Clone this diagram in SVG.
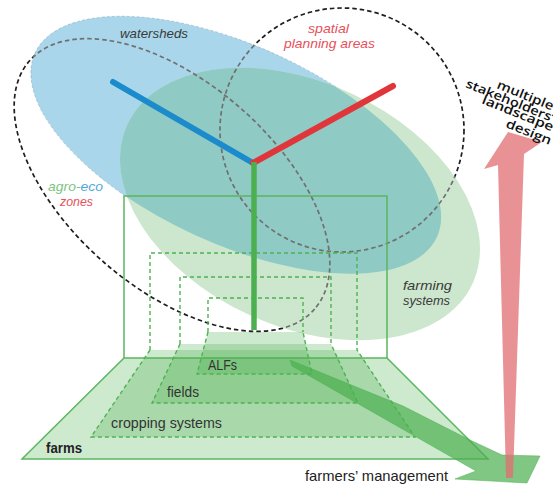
<svg xmlns="http://www.w3.org/2000/svg" xmlns:xlink="http://www.w3.org/1999/xlink" width="553" height="485" viewBox="0 0 553 485">
<style>
.dk{fill:none;stroke:#1e1e1e;stroke-width:1.7;stroke-dasharray:4.5 3}
.dg{fill:none;stroke:#707070;stroke-width:1.7;stroke-dasharray:4.5 3}
.gd{fill:none;stroke:#4db352;stroke-width:1.4;stroke-dasharray:4 3}
.gs{fill:none;stroke:#5bb65e;stroke-width:1.5}
.layer{fill:#4caf50;fill-opacity:0.28}
.lbl{font-family:"Liberation Sans",Arial,sans-serif;font-size:14px;fill:#333}
.it{font-family:"Liberation Sans",Arial,sans-serif;font-size:13px;font-style:italic}
.st{font-family:"Open Sans","Liberation Sans",sans-serif;font-size:12.5px;font-weight:600;fill:#111}
</style>
<defs>
<ellipse id="eBlue" cx="236" cy="145" rx="221" ry="99" transform="rotate(24.6 236 145)"/>
<ellipse id="eGreen" cx="300" cy="204" rx="190" ry="122" transform="rotate(24.7 300 204)"/>
<ellipse id="eAgro" cx="172" cy="185" rx="189" ry="103" transform="rotate(41 172 185)"/>
<ellipse id="eSpatial" cx="342" cy="130" rx="122" ry="122"/>
<clipPath id="cGreen"><use xlink:href="#eGreen"/></clipPath>
<clipPath id="cFill"><use xlink:href="#eBlue"/><use xlink:href="#eGreen"/></clipPath>
</defs>
<rect width="553" height="485" fill="#fff"/>

<g id="agro-eco-zones">
<use xlink:href="#eAgro" class="dk"/>
</g>
<g id="spatial-planning-areas">
<use xlink:href="#eSpatial" class="dk"/>
</g>
<g id="watersheds">
<use xlink:href="#eBlue" fill="#a9d6ea"/>
<use xlink:href="#eBlue" fill="none" stroke="#7fa9bd" stroke-width="0.8" stroke-dasharray="3 2" opacity="0.6"/>
</g>
<g id="farming-systems">
<use xlink:href="#eGreen" fill="#cce7cd"/>
<use xlink:href="#eBlue" fill="#8fcac4" clip-path="url(#cGreen)"/>
</g>
<g clip-path="url(#cFill)">
<use xlink:href="#eAgro" class="dg"/>
<use xlink:href="#eSpatial" class="dg"/>
</g>

<g id="farms">
<polyline points="124,358 124,196 387,196 387,358" class="gs"/>
<polygon points="124,358 387,358 488,459 22,459" class="layer" stroke="#5bb65e" stroke-width="1.5"/>
<text x="46" y="453" class="lbl" style="font-weight:bold;fill:#222" textLength="36" lengthAdjust="spacingAndGlyphs">farms</text>
</g>
<g id="cropping-systems">
<polyline points="150,350 150,253 357,253 357,350" class="gd"/>
<polygon points="150,350 357,350 415,437 91,437" class="layer"/>
<polyline points="150,350 91,437 415,437 357,350" class="gd"/>
<text x="111" y="428" class="lbl" textLength="111" lengthAdjust="spacingAndGlyphs">cropping systems</text>
</g>
<g id="fields">
<polyline points="180,344 180,277 331,277 331,344" class="gd"/>
<polygon points="180,344 331,344 358,403 152,403" class="layer"/>
<polyline points="180,344 152,403 358,403 331,344" class="gd"/>
<text x="167" y="397" class="lbl" textLength="32" lengthAdjust="spacingAndGlyphs">fields</text>
</g>
<g id="alfs">
<polyline points="208,332 208,298 303,298 303,332" class="gd"/>
<polygon points="208,332 303,332 312,374 197,374" class="layer"/>
<polyline points="208,332 197,374 312,374 303,332" class="gd"/>
<text x="208" y="370" class="lbl" textLength="29" lengthAdjust="spacingAndGlyphs">ALFs</text>
</g>

<g id="connectors">
<line x1="113" y1="82" x2="253" y2="163" stroke="#1b8bcc" stroke-width="6" stroke-linecap="round"/>
<line x1="393" y1="86" x2="253" y2="163" stroke="#e0363b" stroke-width="6" stroke-linecap="round"/>
<line x1="254" y1="162" x2="254" y2="330" stroke="#4caf50" stroke-width="5.5"/>
<polygon points="290,360 403,406 470,440 502,455 540,456 527,483 455,479 476,471 292,366" fill="#4caf50" fill-opacity="0.7" stroke="#4caf50" stroke-opacity="0.5" stroke-width="1"/>
<polygon points="484,169 508,132 542,142 524,154 513,478 506,478 498,165" fill="#e16e73" fill-opacity="0.75"/>
</g>

<g id="labels">
<text x="120" y="38" class="it" fill="#3a3a3a" textLength="68" lengthAdjust="spacingAndGlyphs">watersheds</text>
<text class="it" fill="#e8505a"><tspan x="308" y="33" textLength="41" lengthAdjust="spacingAndGlyphs">spatial</tspan><tspan x="284" y="48" textLength="91" lengthAdjust="spacingAndGlyphs">planning areas</tspan></text>
<text x="48" y="191" class="it" textLength="55" lengthAdjust="spacingAndGlyphs"><tspan fill="#7cc47f">agro-</tspan><tspan fill="#4fa9dc">eco</tspan></text>
<text x="60" y="206" class="it" fill="#e8505a" textLength="33" lengthAdjust="spacingAndGlyphs">zones</text>
<text class="it" fill="#3a3a3a"><tspan x="403" y="290" textLength="49" lengthAdjust="spacingAndGlyphs">farming</tspan><tspan x="403" y="305" textLength="47" lengthAdjust="spacingAndGlyphs">systems</tspan></text>
<text x="305" y="481" class="lbl" style="font-size:15px;fill:#222" textLength="143" lengthAdjust="spacingAndGlyphs">farmers’ management</text>
<text class="st" transform="translate(496,88) rotate(22)" textLength="60" lengthAdjust="spacingAndGlyphs">multiple</text>
<text class="st" transform="translate(465,87) rotate(22)" textLength="94" lengthAdjust="spacingAndGlyphs">stakeholders’</text>
<text class="st" transform="translate(481,103) rotate(22)" textLength="76" lengthAdjust="spacingAndGlyphs">landscape</text>
<text class="st" transform="translate(505,127) rotate(22)" textLength="48" lengthAdjust="spacingAndGlyphs">design</text>
</g>
</svg>
